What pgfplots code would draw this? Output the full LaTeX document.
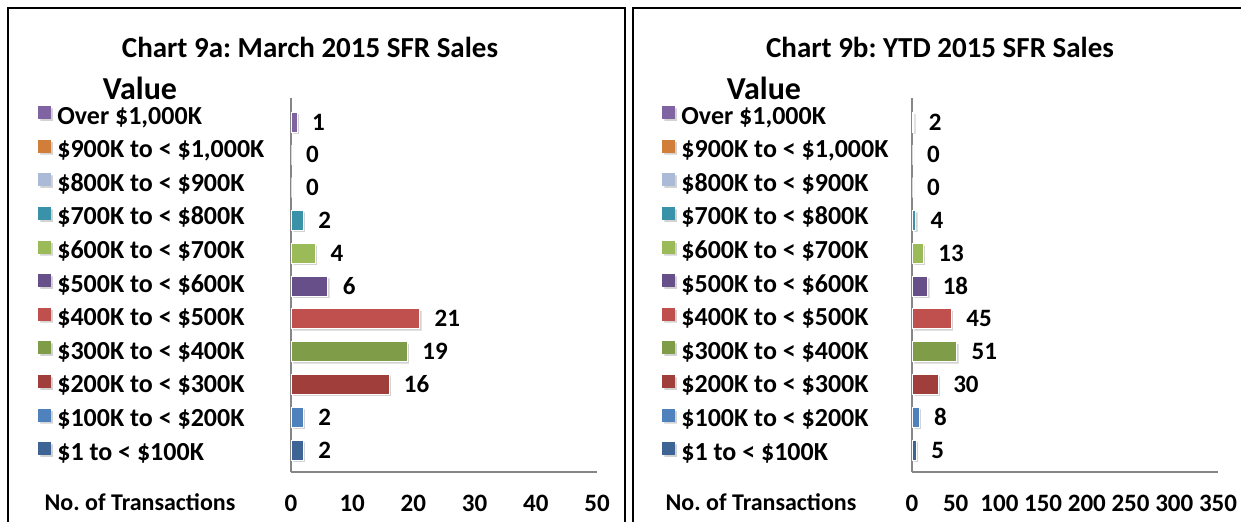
\documentclass[border=0pt]{standalone}
\usepackage{fontspec}
\setmainfont{Carlito}
\usepackage{pgfplots}
\pgfplotsset{compat=1.18}
\usetikzlibrary{shadows}
\frenchspacing

\definecolor{cOver}{RGB}{128,100,162}
\definecolor{cNine}{RGB}{208,126,58}
\definecolor{cEight}{RGB}{170,186,215}
\definecolor{cSeven}{RGB}{58,146,168}
\definecolor{cSix}{RGB}{155,187,89}
\definecolor{cFive}{RGB}{103,80,137}
\definecolor{cFour}{RGB}{192,80,77}
\definecolor{cThree}{RGB}{127,157,72}
\definecolor{cTwo}{RGB}{160,62,60}
\definecolor{cOne}{RGB}{79,129,189}
\definecolor{cZero}{RGB}{62,100,150}
\definecolor{axisgray}{RGB}{134,134,134}

% strut for even legend rows
\newcommand\ls{\rule[-4pt]{0pt}{16.85pt}}

\pgfplotsset{
  bx/.style={xbar, bar shift=0pt, bar width=10pt,
    fill=#1, draw=white, line width=0.4pt,
    drop shadow={shadow xshift=1pt, shadow yshift=-1pt, opacity=0.35, fill=gray},
    nodes near coords, nodes near coords align={horizontal},
    every node near coord/.append style={font=\fontsize{12.5}{14}\selectfont\bfseries,
      black, xshift=4pt},
    legend image code/.code={\fill[##1, draw=none] (0pt,-3.25pt) rectangle (6.5pt,3.25pt);}},
  sfr/.style={
    scale only axis, width=153pt, height=187pt,
    anchor=south west,
    xmin=0, ymin=-0.67, ymax=10.73,
    axis x line=bottom, axis y line=left,
    axis line style={axisgray, -, line width=0.8pt},
    ytick=\empty, major tick length=0pt,
    /pgf/number format/assume math mode=true,
    xticklabel style={font=\fontsize{12.5}{14}\selectfont\bfseries, yshift=-8pt},
    clip=false,
    legend cell align=left,
    legend style={draw=none, fill=none, inner sep=0pt, anchor=north west,
      row sep=2.45pt, column sep=3pt,
      nodes={inner sep=0pt}, font=\fontsize{13}{15}\selectfont\bfseries},
  },
}

\begin{document}
\begin{tikzpicture}
\useasboundingbox (0,0) rectangle (620.5pt,260.5pt);

% panel frames
\draw[line width=1pt] (4pt,-10pt) rectangle (312.5pt,256.5pt);
\draw[line width=1pt] (316.5pt,-10pt) rectangle (630pt,256.5pt);

% left panel
\node[font=\fontsize{14.5}{17}\selectfont\bfseries] at (155pt,237pt) {Chart 9a: March 2015 SFR Sales};
\node[font=\fontsize{16}{19}\selectfont\bfseries] at (70pt,216.5pt) {Value};
\node[font=\fontsize{12}{14}\selectfont\bfseries] at (70pt,9.5pt) {No. of Transactions};

\begin{axis}[sfr, at={(145.5pt,24.5pt)}, xmax=50, xtick={0,10,...,50},
  legend style={at={(-0.827,1.0)}}]
\addplot[bx=cOver]   coordinates {(1,10)};  \addlegendentry{\ls Over \$1,000K}
\addplot[bx=cNine]   coordinates {(0,9)};   \addlegendentry{\ls\$900K to < \$1,000K}
\addplot[bx=cEight]  coordinates {(0,8)};   \addlegendentry{\ls\$800K to < \$900K}
\addplot[bx=cSeven]  coordinates {(2,7)};   \addlegendentry{\ls\$700K to < \$800K}
\addplot[bx=cSix]    coordinates {(4,6)};   \addlegendentry{\ls\$600K to < \$700K}
\addplot[bx=cFive]   coordinates {(6,5)};   \addlegendentry{\ls\$500K to < \$600K}
\addplot[bx=cFour]   coordinates {(21,4)};  \addlegendentry{\ls\$400K to < \$500K}
\addplot[bx=cThree]  coordinates {(19,3)};  \addlegendentry{\ls\$300K to < \$400K}
\addplot[bx=cTwo]    coordinates {(16,2)};  \addlegendentry{\ls\$200K to < \$300K}
\addplot[bx=cOne]    coordinates {(2,1)};   \addlegendentry{\ls\$100K to < \$200K}
\addplot[bx=cZero]   coordinates {(2,0)};   \addlegendentry{\ls\$1 to < \$100K}
\end{axis}

% right panel
\node[font=\fontsize{14.5}{17}\selectfont\bfseries] at (470pt,237pt) {Chart 9b: YTD 2015 SFR Sales};
\node[font=\fontsize{16}{19}\selectfont\bfseries] at (382pt,216.5pt) {Value};
\node[font=\fontsize{12}{14}\selectfont\bfseries] at (380.5pt,9.5pt) {No. of Transactions};

\begin{axis}[sfr, at={(456pt,24.5pt)}, xmax=350, xtick={0,50,...,350},
  legend style={at={(-0.817,1.0)}}]
\addplot[bx=cOver]   coordinates {(2,10)};  \addlegendentry{\ls Over \$1,000K}
\addplot[bx=cNine]   coordinates {(0,9)};   \addlegendentry{\ls\$900K to < \$1,000K}
\addplot[bx=cEight]  coordinates {(0,8)};   \addlegendentry{\ls\$800K to < \$900K}
\addplot[bx=cSeven]  coordinates {(4,7)};   \addlegendentry{\ls\$700K to < \$800K}
\addplot[bx=cSix]    coordinates {(13,6)};  \addlegendentry{\ls\$600K to < \$700K}
\addplot[bx=cFive]   coordinates {(18,5)};  \addlegendentry{\ls\$500K to < \$600K}
\addplot[bx=cFour]   coordinates {(45,4)};  \addlegendentry{\ls\$400K to < \$500K}
\addplot[bx=cThree]  coordinates {(51,3)};  \addlegendentry{\ls\$300K to < \$400K}
\addplot[bx=cTwo]    coordinates {(30,2)};  \addlegendentry{\ls\$200K to < \$300K}
\addplot[bx=cOne]    coordinates {(8,1)};   \addlegendentry{\ls\$100K to < \$200K}
\addplot[bx=cZero]   coordinates {(5,0)};   \addlegendentry{\ls\$1 to < \$100K}
\end{axis}
\end{tikzpicture}
\end{document}
